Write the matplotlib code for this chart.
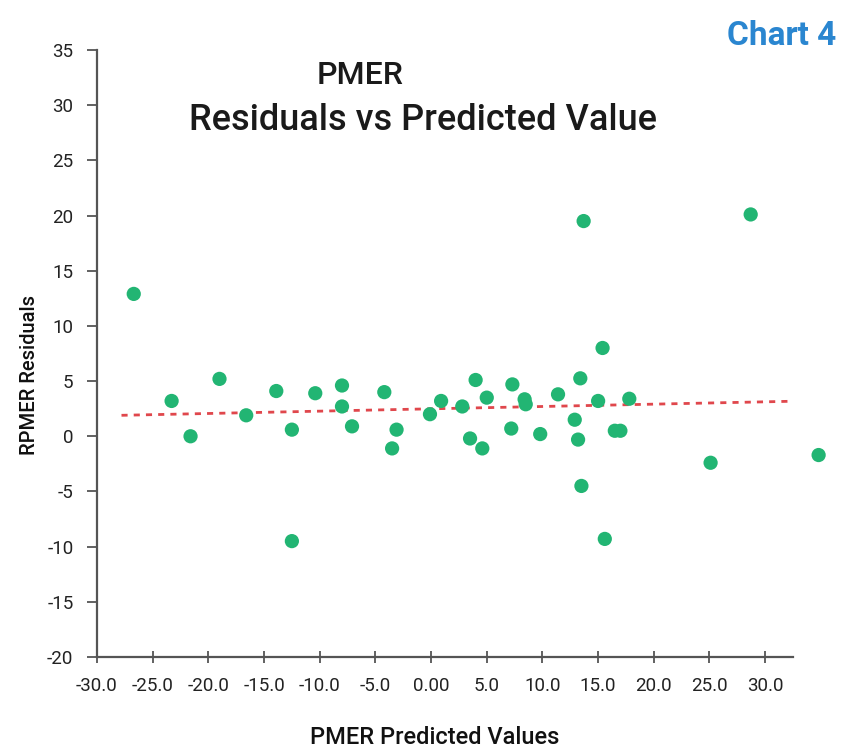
import numpy as np
import matplotlib.pyplot as plt

# PMER predicted values vs residuals
pred = [-26.7, -23.3, -21.6, -19.0, -16.6, -13.9, -12.5, -12.5, -10.4, -8.0,
        -8.0, -7.1, -4.2, -3.5, -3.1, -0.1, 0.9, 2.8, 3.5, 4.0,
        4.6, 5.0, 7.3, 7.2, 8.4, 8.5, 9.8, 11.4, 12.9, 13.2,
        13.4, 13.5, 13.7, 15.0, 15.4, 15.6, 16.5, 17.0, 17.8, 25.1,
        28.7, 34.8]
resid = [12.9, 3.2, 0.0, 5.2, 1.9, 4.1, 0.6, -9.5, 3.9, 4.6,
         2.7, 0.9, 4.0, -1.1, 0.6, 2.0, 3.2, 2.7, -0.2, 5.1,
         -1.1, 3.5, 4.7, 0.7, 3.35, 2.9, 0.2, 3.8, 1.5, -0.3,
         5.25, -4.5, 19.5, 3.2, 8.0, -9.3, 0.5, 0.5, 3.4, -2.4,
         20.1, -1.7]

# dotted trend line end points
trend_x = [-27.8, 33.7]
trend_y = [1.9, 3.2]

xticks = [-30, -25, -20, -15, -10, -5, 0, 5, 10, 15, 20, 25, 30]
xlabels = ['-30.0', '-25.0', '-20.0', '-15.0', '-10.0', '-5.0', '0.00',
           '5.0', '10.0', '15.0', '20.0', '25.0', '30.0']
yticks = list(range(-20, 40, 5))

plt.rcParams['font.family'] = ['Roboto', 'DejaVu Sans']
plt.rcParams['axes.unicode_minus'] = False

fig = plt.figure(figsize=(8.56, 7.5), dpi=100)
ax = fig.add_axes([97/856, 1 - 657/750, (793 - 97)/856, (657 - 50)/750])

ax.plot(trend_x, trend_y, color='#e0474c', lw=2, ls=(0, (2.2, 2.2)), zorder=2)
ax.scatter(pred, resid, s=105, color='#22b573', edgecolors='none', zorder=3,
           clip_on=False)

ax.set_xlim(-30, 32.5)
ax.set_ylim(-20, 35)
ax.set_xticks(xticks)
ax.set_xticklabels(xlabels)
ax.set_yticks(yticks)

for side in ['top', 'right']:
    ax.spines[side].set_visible(False)
for side in ['left', 'bottom']:
    ax.spines[side].set_color('#555555')
    ax.spines[side].set_linewidth(1.6)

ax.tick_params(axis='x', direction='inout', length=9, width=1.3, color='#555555',
               labelsize=13.5, pad=10, labelcolor='#222222')
ax.tick_params(axis='y', direction='out', length=7, width=1.3, color='#555555',
               labelsize=13.5, pad=10, labelcolor='#222222')

fig.text(435/856, 1 - 737/750, 'PMER Predicted Values', fontsize=17,
         ha='center', va='center', color='#111111', fontweight='medium')
fig.text(30/856, 1 - 375/750, 'RPMER Residuals', fontsize=14.5, rotation=90,
         ha='center', va='center', color='#111111', fontweight='medium')

fig.text(360/856, 1 - 76/750, 'PMER', fontsize=23, ha='center', va='center',
         color='#1a1a1a', fontweight='medium')
fig.text(423/856, 1 - 120/750, 'Residuals vs Predicted Value', fontsize=26,
         ha='center', va='center', color='#1a1a1a', fontweight='medium')
fig.text(782/856, 1 - 36/750, 'Chart 4', fontsize=24, fontweight='bold',
         ha='center', va='center', color='#2a86d0')

fig.savefig('out.png', dpi=100)
